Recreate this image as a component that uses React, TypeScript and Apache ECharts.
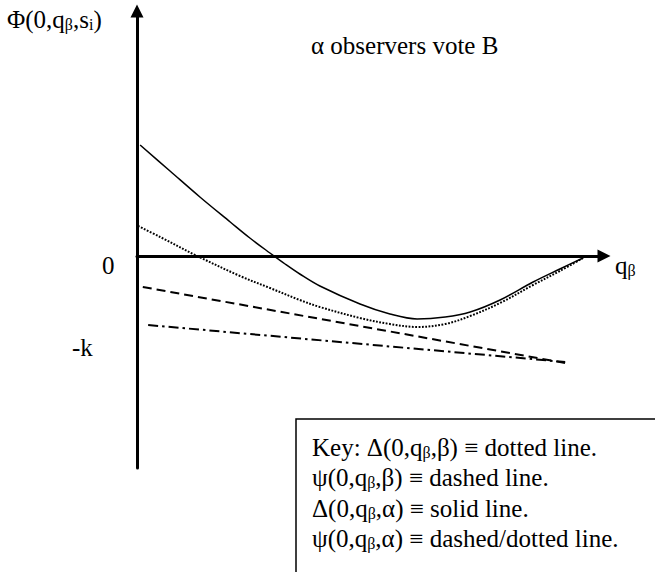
import React, { useEffect, useRef } from "react";
import * as echarts from "echarts";

// Axis ranges (data units): q_beta along x, Phi along y
const qRange: number[] = [0, 1.047];
const phiRange: number[] = [-2.12, 2.45];

// Δ(0,qβ,α) — solid line
const deltaAlphaQ: number[] = [0.007, 0.074, 0.141, 0.209, 0.253, 0.298, 0.332, 0.365, 0.41, 0.5, 0.567, 0.628, 0.691, 0.747, 0.814, 0.888, 0.948, 1.0];
const deltaAlphaV: number[] = [1.11, 0.85, 0.59, 0.34, 0.18, 0.03, -0.08, -0.18, -0.3, -0.48, -0.58, -0.63, -0.61, -0.56, -0.44, -0.26, -0.13, -0.02];

// Δ(0,qβ,β) — dotted line
const deltaBetaQ: number[] = [-0.011, 0.052, 0.135, 0.231, 0.298, 0.365, 0.41, 0.5, 0.567, 0.628, 0.691, 0.747, 0.814, 0.888, 0.948, 1.0];
const deltaBetaV: number[] = [0.33, 0.19, 0.0, -0.2, -0.32, -0.44, -0.51, -0.62, -0.68, -0.71, -0.68, -0.6, -0.47, -0.29, -0.15, -0.02];

// ψ(0,qβ,β) — dashed line
const psiBetaQ: number[] = [0.013, 0.96];
const psiBetaV: number[] = [-0.31, -1.07];

// ψ(0,qβ,α) — dashed/dotted line
const psiAlphaQ: number[] = [0.025, 0.96];
const psiAlphaV: number[] = [-0.69, -1.06];

const keyLines: string[] = [
  "Key: Δ(0,q{sub|β},β) ≡ dotted line.",
  "ψ(0,q{sub|β},β) ≡ dashed line.",
  "Δ(0,q{sub|β},α) ≡ solid line.",
  "ψ(0,q{sub|β},α) ≡ dashed/dotted line.",
];

const FONT = "'Liberation Serif', 'Times New Roman', serif";
const FS = 25;

const zip = (xs: number[], ys: number[]) => xs.map((x, i) => [x, ys[i]]);

export default function App() {
  const ref = useRef<HTMLDivElement>(null);
  useEffect(() => {
    if (!ref.current) return;
    const chart = echarts.init(ref.current, undefined, { renderer: "svg" });
    const sub = { fontSize: 16, fontFamily: FONT, fill: "#000", padding: [10, 0, 0, 0] };
    const lineBase = { type: "line", showSymbol: false, symbol: "none", clip: false, silent: true, smooth: 0.35 };
    chart.setOption({
      animation: false,
      backgroundColor: "#fff",
      grid: { left: 137, right: 51, top: 11, bottom: 104, containLabel: false },
      xAxis: {
        type: "value",
        min: qRange[0],
        max: qRange[1],
        axisLine: {
          show: true,
          onZero: true,
          symbol: ["none", "triangle"],
          symbolSize: [13, 13],
          lineStyle: { color: "#000", width: 3 },
        },
        axisTick: { show: false },
        axisLabel: { show: false },
        splitLine: { show: false },
      },
      yAxis: {
        type: "value",
        min: phiRange[0],
        max: phiRange[1],
        axisLine: {
          show: true,
          onZero: true,
          symbol: ["none", "triangle"],
          symbolSize: [13, 13],
          lineStyle: { color: "#000", width: 3 },
        },
        axisTick: { show: false },
        axisLabel: { show: false },
        splitLine: { show: false },
      },
      series: [
        { ...lineBase, name: "Δ(0,qβ,α)", data: zip(deltaAlphaQ, deltaAlphaV), lineStyle: { color: "#000", width: 1.5, type: "solid" } },
        { ...lineBase, name: "Δ(0,qβ,β)", data: zip(deltaBetaQ, deltaBetaV), lineStyle: { color: "#000", width: 2, type: [1.8, 1.5] } },
        { ...lineBase, name: "ψ(0,qβ,β)", smooth: false, data: zip(psiBetaQ, psiBetaV), lineStyle: { color: "#000", width: 2, type: [9, 5] } },
        { ...lineBase, name: "ψ(0,qβ,α)", smooth: false, data: zip(psiAlphaQ, psiAlphaV), lineStyle: { color: "#000", width: 2, type: [10, 4, 2.5, 4] } },
      ],
      graphic: [
        {
          type: "text", x: 7, y: 19, silent: true,
          style: { text: "Φ(0,q{sub|β},s{sub|i})", fontSize: FS, fontFamily: FONT, fill: "#000", verticalAlign: "middle", lineHeight: 27, rich: { sub } },
        },
        {
          type: "text", x: 311, y: 45, silent: true,
          style: { text: "α observers vote B", fontSize: FS, fontFamily: FONT, fill: "#000", verticalAlign: "middle" },
        },
        {
          type: "text", x: 102, y: 265, silent: true,
          style: { text: "0", fontSize: FS, fontFamily: FONT, fill: "#000", verticalAlign: "middle" },
        },
        {
          type: "text", x: 72, y: 347, silent: true,
          style: { text: "-k", fontSize: FS, fontFamily: FONT, fill: "#000", verticalAlign: "middle" },
        },
        {
          type: "text", x: 615, y: 265, silent: true,
          style: { text: "q{sub|β}", fontSize: FS, fontFamily: FONT, fill: "#000", verticalAlign: "middle", lineHeight: 27, rich: { sub } },
        },
        {
          type: "rect", silent: true,
          shape: { x: 296, y: 419, width: 420, height: 200 },
          style: { fill: "none", stroke: "#000", lineWidth: 1.5 },
        },
        {
          type: "text", x: 312, y: 432, silent: true,
          style: { text: keyLines.join("\n"), fontSize: FS, fontFamily: FONT, fill: "#000", verticalAlign: "top", lineHeight: 30.5, rich: { sub: { ...sub, lineHeight: 30.5 } } },
        },
      ],
    });
    return () => chart.dispose();
  }, []);
  return (
    <div
      ref={ref}
      style={{ position: "fixed", left: 0, top: 0, width: 655, height: 572, background: "#fff" }}
    />
  );
}
